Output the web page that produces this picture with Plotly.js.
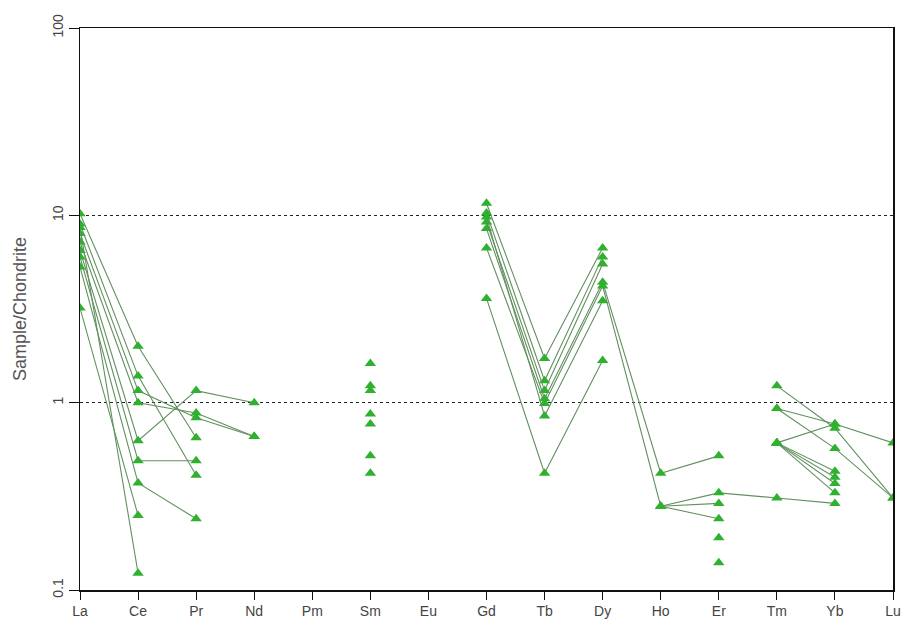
<!DOCTYPE html>
<html><head><meta charset="utf-8">
<script src="https://cdn.plot.ly/plotly-3.0.1.min.js"></script>
<style>html,body{margin:0;padding:0;background:#fff}#chart{width:905px;height:628px}</style>
</head><body><div id="chart"></div>
<script>
const elements = ["La","Ce","Pr","Nd","Pm","Sm","Eu","Gd","Tb","Dy","Ho","Er","Tm","Yb","Lu"];
const n = null;
//            La    Ce     Pr    Nd    Pm  Sm    Eu  Gd    Tb    Dy    Ho    Er    Tm    Yb    Lu
const s1  = [10.2, 2.0,   0.65, n,    n,  1.62, n,  11.6, 1.72, 6.7,  n,    n,    1.23, 0.73, 0.31];
const s2  = [9.0,  1.39,  0.41, n,    n,  1.23, n,  10.3, 1.31, 6.0,  n,    n,    0.93, 0.57, 0.31];
const s3  = [8.0,  1.16,  0.83, 0.66, n,  1.16, n,  9.2,  1.16, 5.5,  n,    n,    0.93, 0.77, 0.61];
const s4  = [7.2,  1.0,   0.88, 0.66, n,  0.87, n,  8.5,  1.05, 4.4,  0.42, 0.52, n,    n,    n];
const s5  = [6.5,  0.626, 1.16, 1.0,  n,  0.77, n,  6.7,  0.99, 4.2,  0.28, 0.29, n,    n,    n];
const s6  = [6.0,  0.49,  0.49, n,    n,  0.52, n,  9.8,  0.85, 3.5,  n,    n,    0.61, 0.77, n];
const s7  = [5.3,  0.373, 0.24, n,    n,  0.42, n,  3.6,  0.42, 1.68, n,    n,    0.61, 0.43, n];
const s8  = [3.2,  0.25,  n,    n,    n,  n,    n,  n,    n,    n,    n,    0.19, n,    n,    n];
const s9  = [8.6,  0.123, n,    n,    n,  n,    n,  n,    n,    n,    n,    0.14, n,    n,    n];
const s10 = [n,    n,     n,    n,    n,  n,    n,  n,    n,    n,    0.28, 0.33, 0.31, 0.29, n];
const s11 = [n,    n,     n,    n,    n,  n,    n,  n,    n,    n,    0.28, 0.24, n,    n,    n];
const s12 = [n,    n,     n,    n,    n,  n,    n,  n,    n,    n,    n,    n,    0.61, 0.40, n];
const s13 = [n,    n,     n,    n,    n,  n,    n,  n,    n,    n,    n,    n,    0.61, 0.37, n];
const s14 = [n,    n,     n,    n,    n,  n,    n,  n,    n,    n,    n,    n,    0.61, 0.33, n];
const samples = [s1,s2,s3,s4,s5,s6,s7,s8,s9,s10,s11,s12,s13,s14];
const yTickVals = [0.1, 1, 10, 100];
const yTickText = ["0.1", "1", "10", "100"];

const traces = samples.map((s, i) => ({
  type: "scatter", mode: "lines+markers", x: elements, y: s, name: "S" + (i+1),
  connectgaps: false, showlegend: false,
  line: {color: "#62905f", width: 1.1},
  marker: {symbol: "triangle-up", size: 10, color: "#2fb12f", line: {width: 0}}
}));

const layout = {
  width: 905, height: 628,
  margin: {l: 80, r: 12, t: 28, b: 38},
  paper_bgcolor: "#fff", plot_bgcolor: "#fff",
  font: {family: "Liberation Sans, Arial, sans-serif", color: "#222", size: 14},
  xaxis: {
    type: "category", categoryorder: "array", categoryarray: elements,
    range: [0, 14], showgrid: false, zeroline: false,
    showline: true, linecolor: "#111", linewidth: 1.5, mirror: true,
    ticks: "outside", ticklen: 8, tickcolor: "#111", tickwidth: 1,
    tickfont: {size: 14, color: "#444"}
  },
  yaxis: {
    type: "log", range: [-1, 2],
    tickmode: "array", tickvals: yTickVals, ticktext: yTickText, tickangle: -90,
    showgrid: true, gridcolor: "#222", griddash: "dot", gridwidth: 1,
    zeroline: false, showline: true, linecolor: "#111", linewidth: 1.5, mirror: true,
    ticks: "outside", ticklen: 10, tickcolor: "#111", tickwidth: 1,
    tickfont: {size: 14, color: "#444"},
    title: {text: "Sample/Chondrite", font: {size: 18, color: "#555"}, standoff: 18}
  }
};
Plotly.newPlot("chart", traces, layout, {staticPlot: true, displayModeBar: false});
</script></body></html>
